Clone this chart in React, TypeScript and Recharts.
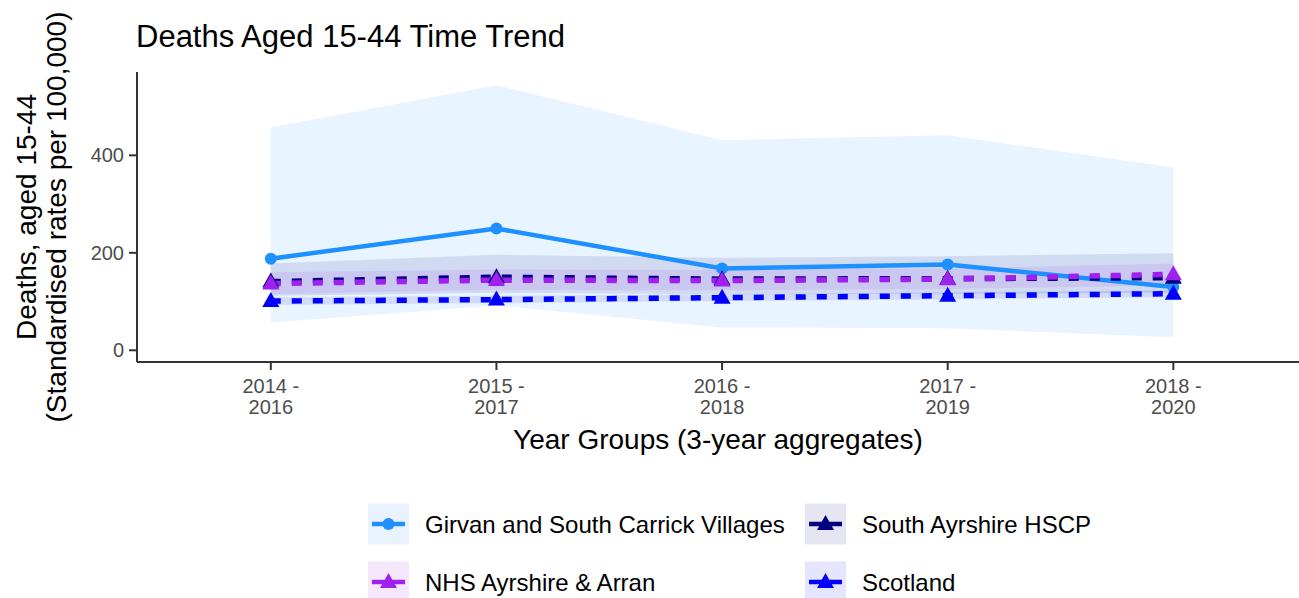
import React from "react";
import { ComposedChart, Area, Line, XAxis, YAxis, Label } from "recharts";

const yearGroups = ["2014 - 2016", "2015 - 2017", "2016 - 2018", "2017 - 2019", "2018 - 2020"];

const girvan = [188, 250, 168, 176, 130];
const girvanLower = [57, 92, 47, 45, 27];
const girvanUpper = [457, 544, 431, 441, 375];

const southAyrshire = [141, 150, 146, 147, 149];
const southAyrshireLower = [112, 118, 115, 116, 118];
const southAyrshireUpper = [178, 196, 190, 193, 199];

const nhsAyrshire = [137, 144, 143, 146, 156];
const nhsLower = [115, 124, 123, 126, 133];
const nhsUpper = [160, 166, 165, 168, 178];

const scotland = [101, 104, 108, 112, 116];
const scotlandLower = [93, 97, 101, 105, 109];
const scotlandUpper = [109, 112, 115, 119, 123];

const yTicks = [0, 200, 400];

const FONT = "'Liberation Sans', Arial, sans-serif";
const GIRVAN = "#1E90FF";
const NAVY = "#000080";
const PURPLE = "#A020F0";
const BLUE = "#0000FF";

const data = yearGroups.map((g, i) => ({
  idx: i,
  girvan: girvan[i],
  girvanCI: [girvanLower[i], girvanUpper[i]],
  southAyrshire: southAyrshire[i],
  southAyrshireCI: [southAyrshireLower[i], southAyrshireUpper[i]],
  nhs: nhsAyrshire[i],
  nhsCI: [nhsLower[i], nhsUpper[i]],
  scotland: scotland[i],
  scotlandCI: [scotlandLower[i], scotlandUpper[i]],
}));

const triPath = (cx: number, cy: number) =>
  `M${cx},${cy - 9} L${cx + 8.5},${cy + 6} L${cx - 8.5},${cy + 6} Z`;

const triangleDot = (color: string) => (props: any) => {
  const { cx, cy, index } = props;
  if (cx == null || cy == null) return <g key={index} />;
  return <path key={index} d={triPath(cx, cy)} fill={color} />;
};

const circleDot = (props: any) => {
  const { cx, cy, index } = props;
  if (cx == null || cy == null) return <g key={index} />;
  return <circle key={index} cx={cx} cy={cy} r={6} fill={GIRVAN} />;
};

const XTick = ({ x, y, payload }: any) => {
  const [a, b] = yearGroups[payload.value].split(" - ");
  return (
    <g>
      <text x={x} y={y + 21} textAnchor="middle" fill="#4D4D4D" fontSize={20} fontFamily={FONT}>
        {a} -
      </text>
      <text x={x} y={y + 42} textAnchor="middle" fill="#4D4D4D" fontSize={20} fontFamily={FONT}>
        {b}
      </text>
    </g>
  );
};

const legendItems = [
  { label: "Girvan and South Carrick Villages", color: GIRVAN, bg: "#E8F3FF", shape: "circle", x: 368, y: 524 },
  { label: "NHS Ayrshire & Arran", color: PURPLE, bg: "#F5E8FD", shape: "tri", x: 368, y: 582 },
  { label: "South Ayrshire HSCP", color: NAVY, bg: "#E6E6F2", shape: "tri", x: 805, y: 524 },
  { label: "Scotland", color: BLUE, bg: "#E5E5FF", shape: "tri", x: 805, y: 582 },
];

export default function App() {
  return (
    <div style={{ position: "absolute", left: 0, top: 0, width: 1299, height: 598, background: "#fff" }}>
      <ComposedChart
        width={1299}
        height={598}
        data={data}
        margin={{ top: 72, right: 0, bottom: 196, left: 0 }}
      >
        <XAxis
          dataKey="idx"
          type="number"
          domain={[-0.593, 4.557]}
          allowDataOverflow
          ticks={[0, 1, 2, 3, 4]}
          tick={<XTick />}
          tickSize={8}
          tickLine={{ stroke: "#333", strokeWidth: 2 }}
          axisLine={{ stroke: "#333", strokeWidth: 2 }}
          height={40}
          interval={0}
        >
          <Label
            content={({ viewBox }: any) => (
              <text
                x={viewBox.x + viewBox.width / 2}
                y={viewBox.y + 87}
                textAnchor="middle"
                fontSize={28}
                fontFamily={FONT}
                fill="#000"
              >
                Year Groups (3-year aggregates)
              </text>
            )}
          />
        </XAxis>
        <YAxis
          type="number"
          domain={[-24, 571]}
          allowDataOverflow
          ticks={yTicks}
          width={137}
          tickSize={8}
          tickMargin={5}
          tick={{ fill: "#4D4D4D", fontSize: 20, fontFamily: FONT }}
          tickLine={{ stroke: "#333", strokeWidth: 2 }}
          axisLine={{ stroke: "#333", strokeWidth: 2 }}
        >
          <Label
            content={({ viewBox }: any) => {
              const cy = viewBox.y + viewBox.height / 2;
              return (
                <g fontSize={28} fontFamily={FONT} fill="#000">
                  <text x={36} y={cy} textAnchor="middle" transform={`rotate(-90, 36, ${cy})`}>
                    Deaths, aged 15-44
                  </text>
                  <text x={66} y={cy} textAnchor="middle" transform={`rotate(-90, 66, ${cy})`}>
                    (Standardised rates per 100,000)
                  </text>
                </g>
              );
            }}
          />
        </YAxis>

        <Area dataKey="girvanCI" type="linear" stroke="none" fill={GIRVAN} fillOpacity={0.1} dot={false} activeDot={false} isAnimationActive={false} />
        <Area dataKey="southAyrshireCI" type="linear" stroke="none" fill={NAVY} fillOpacity={0.1} dot={false} activeDot={false} isAnimationActive={false} />
        <Area dataKey="nhsCI" type="linear" stroke="none" fill={PURPLE} fillOpacity={0.1} dot={false} activeDot={false} isAnimationActive={false} />
        <Area dataKey="scotlandCI" type="linear" stroke="none" fill={BLUE} fillOpacity={0.1} dot={false} activeDot={false} isAnimationActive={false} />

        <Line dataKey="girvan" type="linear" stroke={GIRVAN} strokeWidth={4.5} dot={circleDot} activeDot={false} isAnimationActive={false} />
        <Line dataKey="southAyrshire" type="linear" stroke={NAVY} strokeWidth={5.5} strokeDasharray="10 11" strokeLinecap="butt" dot={triangleDot(NAVY)} activeDot={false} isAnimationActive={false} />
        <Line dataKey="nhs" type="linear" stroke={PURPLE} strokeWidth={5.5} strokeDasharray="10 11" strokeLinecap="butt" dot={triangleDot(PURPLE)} activeDot={false} isAnimationActive={false} />
        <Line dataKey="scotland" type="linear" stroke={BLUE} strokeWidth={5.5} strokeDasharray="10 11" strokeLinecap="butt" dot={triangleDot(BLUE)} activeDot={false} isAnimationActive={false} />
      </ComposedChart>

      <svg
        width={1299}
        height={598}
        style={{ position: "absolute", left: 0, top: 0, pointerEvents: "none" }}
        fontFamily={FONT}
      >
        <text x={136} y={47} fontSize={31} fill="#000">
          Deaths Aged 15-44 Time Trend
        </text>
        {legendItems.map((it) => (
          <g key={it.label}>
            <rect x={it.x} y={it.y - 20.5} width={41} height={41} fill={it.bg} />
            <line x1={it.x + 4} x2={it.x + 37} y1={it.y} y2={it.y} stroke={it.color} strokeWidth={4.5} />
            {it.shape === "circle" ? (
              <circle cx={it.x + 20.5} cy={it.y} r={6} fill={it.color} />
            ) : (
              <path d={triPath(it.x + 20.5, it.y)} fill={it.color} />
            )}
            <text x={it.x + 57} y={it.y + 8.5} fontSize={24} fill="#000">
              {it.label}
            </text>
          </g>
        ))}
      </svg>
    </div>
  );
}
